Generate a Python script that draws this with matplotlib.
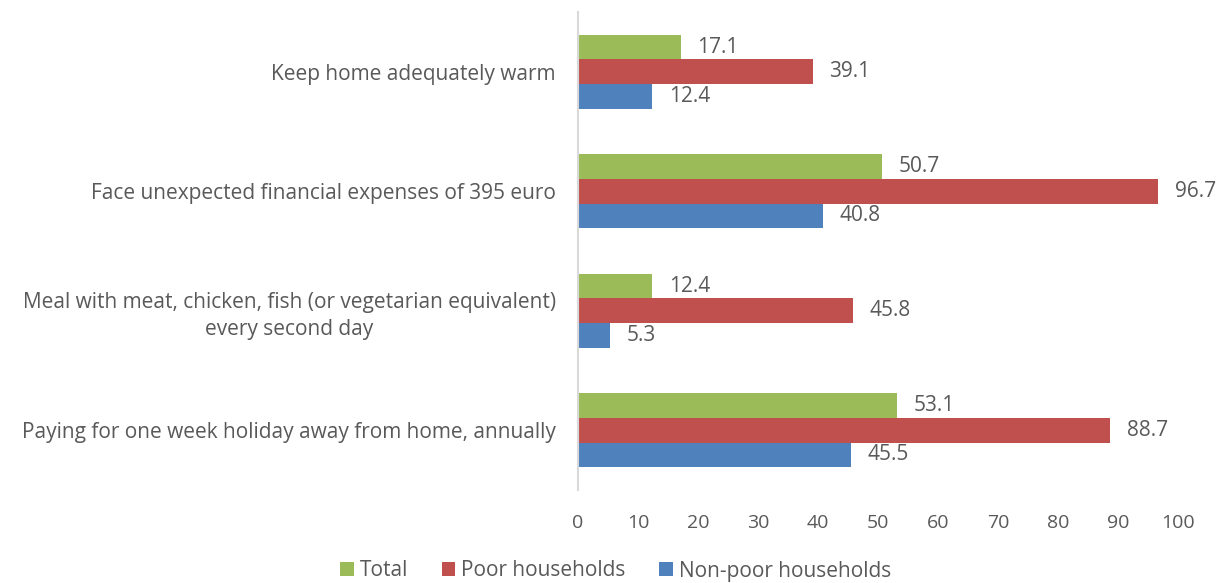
import matplotlib.pyplot as plt
import numpy as np

categories = [
    "Keep home adequately warm",
    "Face unexpected financial expenses of 395 euro",
    "Meal with meat, chicken, fish (or vegetarian equivalent)\nevery second day",
    "Paying for one week holiday away from home, annually",
]
total = [17.1, 50.7, 12.4, 53.1]
poor = [39.1, 96.7, 45.8, 88.7]
non_poor = [12.4, 40.8, 5.3, 45.5]

series = [
    ("Total", total, "#9BBB59"),
    ("Poor households", poor, "#C0504D"),
    ("Non-poor households", non_poor, "#4F81BD"),
]

plt.rcParams["font.family"] = ["Open Sans", "DejaVu Sans"]
text_color = "#595959"

fig = plt.figure(figsize=(12.19, 5.83), dpi=100)
ax = fig.add_axes([578 / 1219, 1 - 490 / 583, 600 / 1219, 478 / 583])

y = np.arange(len(categories))
h = 0.206
for i, (name, vals, color) in enumerate(series):
    pos = y + (i - 1) * h
    bars = ax.barh(pos, vals, height=h, color=color, label=name)
    for b, v in zip(bars, vals):
        ax.annotate(f"{v:.1f}", (v, b.get_y() + h / 2), xytext=(12, 0),
                    textcoords="offset points", va="center", ha="left",
                    fontsize=15, color=text_color)

ax.set_ylim(len(categories) - 0.5, -0.5)
ax.set_xlim(0, 100)
ax.set_xticks(range(0, 101, 10))
ax.set_yticks(y)
ax.set_yticklabels(categories, multialignment="center", linespacing=1.35)
ax.tick_params(axis="y", length=0, pad=16, labelsize=15, labelcolor=text_color)
ax.tick_params(axis="x", length=0, pad=17, labelsize=14, labelcolor=text_color)
for s in ["top", "right", "bottom"]:
    ax.spines[s].set_visible(False)
ax.spines["left"].set_color("#d9d9d9")
ax.spines["left"].set_linewidth(1.5)

handles, labels = ax.get_legend_handles_labels()
fig.legend(handles, labels, loc="center", bbox_to_anchor=(0.505, 1 - 571 / 583),
           ncol=3, frameon=False, fontsize=15, labelcolor=text_color,
           handlelength=0.65, handleheight=0.65, handletextpad=0.3, columnspacing=1.6)

fig.savefig("out.png", dpi=100)
